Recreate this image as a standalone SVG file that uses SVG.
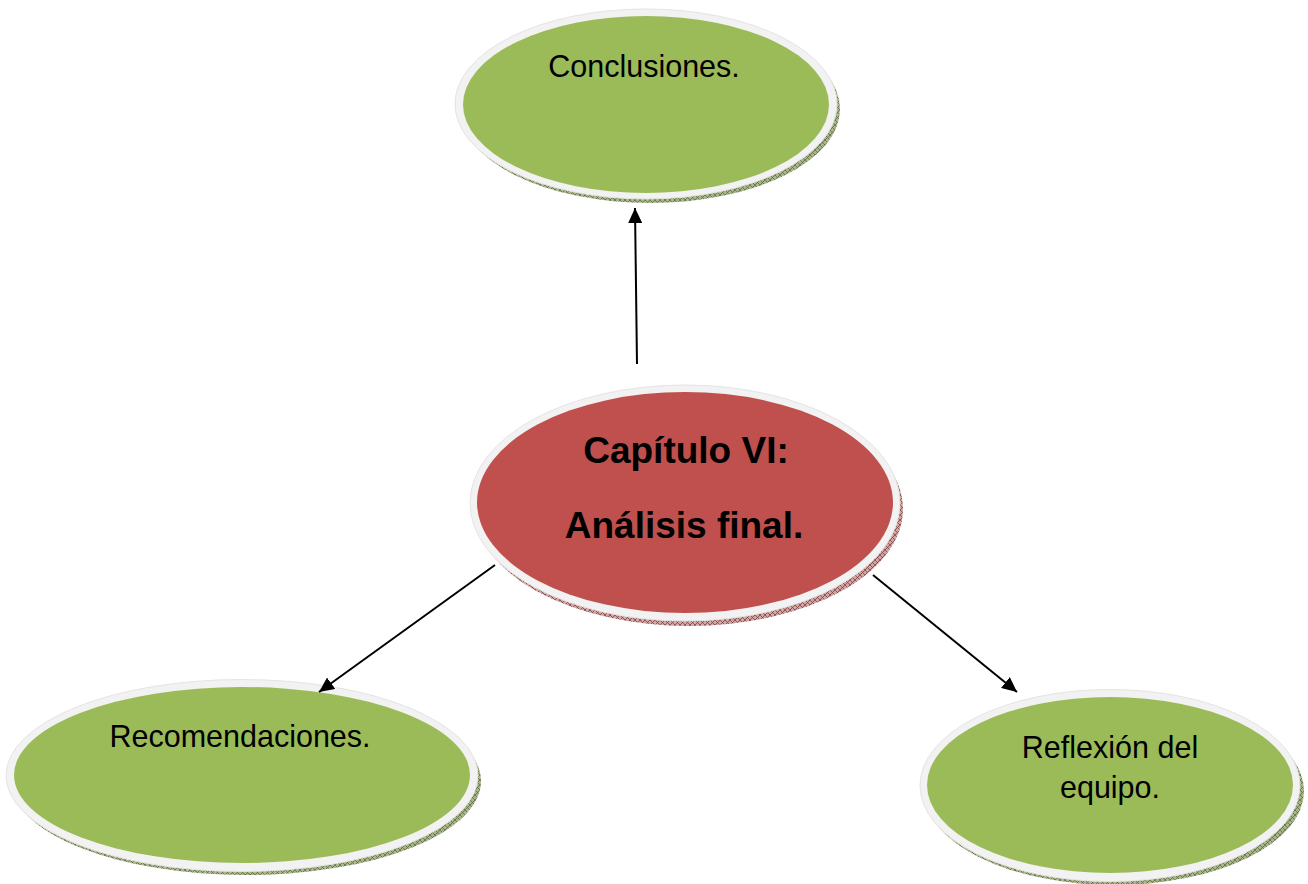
<svg xmlns="http://www.w3.org/2000/svg" width="1308" height="884" viewBox="0 0 1308 884">
<defs>
<pattern id="hg" width="5" height="5" patternUnits="userSpaceOnUse">
<rect width="5" height="5" fill="#a9b68a"/>
<path d="M0 0L5 5M5 0L0 5" stroke="#5f6d45" stroke-width="0.8"/>
</pattern>
<pattern id="hr" width="5" height="5" patternUnits="userSpaceOnUse">
<rect width="5" height="5" fill="#d2a5a4"/>
<path d="M0 0L5 5M5 0L0 5" stroke="#7e4442" stroke-width="0.8"/>
</pattern>
<marker id="ah" markerWidth="15" markerHeight="14" refX="15" refY="7" orient="auto" markerUnits="userSpaceOnUse">
<path d="M0 0L15 7L0 14Z" fill="#000"/>
</marker>
</defs>
<style>
.ring{fill:#f2f2f2;stroke:#e4e4e4;stroke-width:1}
.g{fill:#9bbb59}
.r{fill:#c0504d}
.t{font-family:"Liberation Sans",Arial,sans-serif;font-size:30.5px;fill:#000;text-anchor:middle}
.tb{font-family:"Liberation Sans",Arial,sans-serif;font-size:37px;font-weight:bold;fill:#000;text-anchor:middle}
.c{stroke:#000;stroke-width:2;fill:none;marker-end:url(#ah)}
</style>
<rect width="1308" height="884" fill="#fff"/>
<g id="conclusiones">
<ellipse cx="650" cy="109" rx="190" ry="94" fill="url(#hg)"/>
<ellipse class="ring" cx="646" cy="104" rx="191" ry="95"/>
<ellipse class="g" cx="646" cy="104.5" rx="183" ry="88.5"/>
<text class="t" x="644" y="77">Conclusiones.</text>
</g>
<g id="capitulo">
<ellipse cx="689" cy="509" rx="214" ry="117" fill="url(#hr)"/>
<ellipse class="ring" cx="685" cy="503" rx="215" ry="118"/>
<ellipse class="r" cx="685" cy="502.5" rx="208" ry="110.5"/>
<text class="tb" x="686" y="463">Capítulo VI:</text>
<text class="tb" x="684" y="538">Análisis final.</text>
</g>
<g id="recomendaciones">
<ellipse cx="246" cy="781" rx="235" ry="94" fill="url(#hg)"/>
<ellipse class="ring" cx="242" cy="775.5" rx="236" ry="96"/>
<ellipse class="g" cx="242" cy="775" rx="228" ry="88"/>
<text class="t" x="240" y="747">Recomendaciones.</text>
</g>
<g id="reflexion">
<ellipse cx="1114" cy="791" rx="190" ry="94" fill="url(#hg)"/>
<ellipse class="ring" cx="1110" cy="785.5" rx="190" ry="96"/>
<ellipse class="g" cx="1110" cy="785" rx="183" ry="88"/>
<text class="t" x="1110" y="758">Reflexión del</text>
<text class="t" x="1110" y="798">equipo.</text>
</g>
<g id="connectors">
<line class="c" x1="637" y1="364" x2="635" y2="208"/>
<line class="c" x1="495" y1="565" x2="319" y2="692"/>
<line class="c" x1="873" y1="575" x2="1017" y2="692"/>
</g>
</svg>
